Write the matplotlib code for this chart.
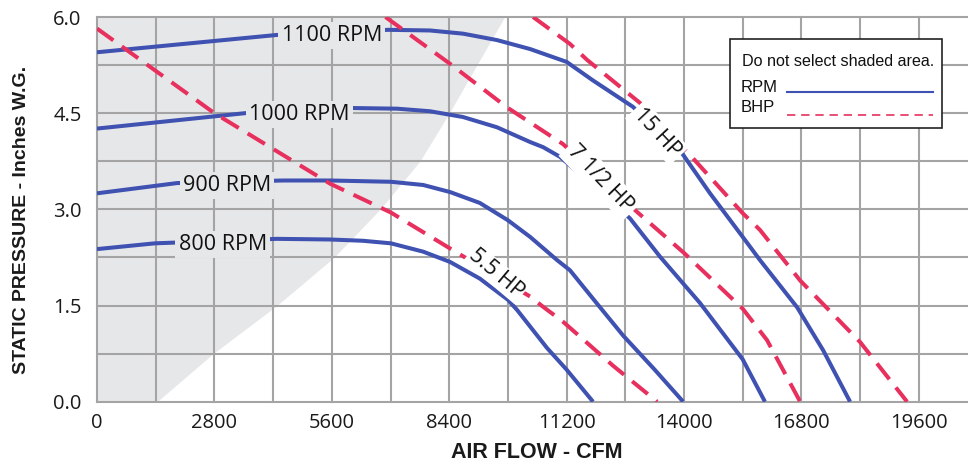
import matplotlib
matplotlib.use("Agg")
import matplotlib.pyplot as plt
from matplotlib.patches import Rectangle
from matplotlib.lines import Line2D

# fan curve data (air flow in CFM, static pressure in inches W.G.)
rpm800_cfm = [0, 1380, 4290, 5560, 6340, 7010, 7780, 8420, 9130, 9800, 10020, 10730, 11200, 11830]
rpm800_sp = [2.38, 2.47, 2.54, 2.53, 2.51, 2.47, 2.34, 2.18, 1.92, 1.59, 1.43, 0.84, 0.50, 0.0]

rpm900_cfm = [0, 1910, 4440, 5560, 7010, 7780, 8420, 9130, 9800, 10330, 10970, 11280, 11900, 12550, 13300, 13980]
rpm900_sp = [3.25, 3.41, 3.45, 3.45, 3.43, 3.38, 3.27, 3.10, 2.83, 2.57, 2.21, 2.05, 1.55, 1.03, 0.50, 0.0]

rpm1000_cfm = [0, 3530, 6110, 7160, 7940, 8730, 9540, 10330, 10640, 11040, 11450, 12710, 13430, 14380, 15400, 15930]
rpm1000_sp = [4.26, 4.50, 4.58, 4.57, 4.53, 4.44, 4.28, 4.05, 3.97, 3.82, 3.59, 2.86, 2.26, 1.54, 0.66, 0.0]

rpm1100_cfm = [0, 4290, 6940, 7940, 8730, 9540, 10330, 11200, 11830, 12780, 13980, 14620, 15400,
               15810, 16700, 17320, 17960]
rpm1100_sp = [5.45, 5.72, 5.80, 5.79, 5.74, 5.64, 5.50, 5.30, 5.01, 4.60, 3.85, 3.25, 2.57,
              2.21, 1.47, 0.80, 0.0]

hp55_cfm = [0, 2800, 5560, 7010, 8420, 10330, 10640, 11110, 12310, 13360]
hp55_sp = [5.82, 4.50, 3.40, 2.95, 2.39, 1.64, 1.48, 1.25, 0.56, 0.0]

hp75_cfm = [6880, 8420, 9780, 11110, 12880, 14000, 15400, 15980, 16770]
hp75_sp = [6.0, 5.27, 4.59, 4.02, 2.96, 2.32, 1.45, 0.96, 0.0]

hp15_cfm = [10400, 11280, 11690, 12950, 14140, 15400, 15810, 16770, 18200, 19320]
hp15_sp = [6.0, 5.58, 5.33, 4.66, 3.85, 2.94, 2.68, 1.89, 0.93, 0.0]

# edge of the "do not select" shaded area
shade_sp = [0, 0.75, 1.5, 2.25, 3.0, 3.75, 4.5, 5.25, 6.0]
shade_cfm = [1430, 2770, 4290, 5650, 6750, 7700, 8400, 9060, 9720]

x_ticks = [0, 2800, 5600, 8400, 11200, 14000, 16800, 19600]
y_ticks = [0.0, 1.5, 3.0, 4.5, 6.0]

BLUE = "#3f51b1"
RED = "#e8305e"
SHADE = "#e6e7e9"
GRID = "#a4a4a4"
FONT = "Open Sans"

W, H = 968, 466
fig = plt.figure(figsize=(W / 100, H / 100), dpi=100)
ax = fig.add_axes([97 / W, (H - 401.7) / H, (W - 97) / W, 384.7 / H])
ax.set_xlim(0, 20773)
ax.set_ylim(0, 6)

ax.fill_betweenx(shade_sp, 0, shade_cfm, color=SHADE, lw=0, zorder=0.2)

for cfm, sp in [(rpm800_cfm, rpm800_sp), (rpm900_cfm, rpm900_sp),
                (rpm1000_cfm, rpm1000_sp), (rpm1100_cfm, rpm1100_sp)]:
    ax.plot(cfm, sp, color=BLUE, lw=2.9, zorder=2, solid_capstyle="butt", solid_joinstyle="round")

for cfm, sp in [(hp55_cfm, hp55_sp), (hp75_cfm, hp75_sp), (hp15_cfm, hp15_sp)]:
    ax.plot(cfm, sp, color=RED, lw=2.9, dashes=(5, 2.6), zorder=2.1)

# curve labels
rpm_labels = [("1100 RPM", 5600, 5.75), ("1000 RPM", 4820, 4.52),
              ("900 RPM", 3100, 3.41), ("800 RPM", 3000, 2.49)]
for txt, x, y in rpm_labels:
    ax.text(x, y, txt, ha="center", va="center_baseline", fontsize=15.5, family=FONT,
            color="#111111", zorder=3,
            bbox=dict(boxstyle="square,pad=0.15", fc=SHADE, ec="none"))

hp_labels = [("15 HP", 13400, 4.22, -47, 0.14), ("7 1/2 HP", 12044, 3.50, -46, 0.16),
             ("5.5 HP", 9560, 2.03, -40, 0.06)]
for txt, x, y, rot, pad in hp_labels:
    ax.text(x, y, txt, ha="center", va="center_baseline", fontsize=15.5, family=FONT,
            color="#111111", rotation=rot, rotation_mode="anchor", zorder=3,
            bbox=dict(boxstyle=f"square,pad={pad}", fc="white", ec="none"))

# grid and ticks
ax.set_xticks(x_ticks)
ax.set_xticks(range(0, 20773, 1400), minor=True)
ax.set_yticks(y_ticks)
ax.set_yticks([i * 0.75 for i in range(9)], minor=True)
ax.set_xticklabels([str(v) for v in x_ticks])
ax.set_yticklabels([f"{v:.1f}" for v in y_ticks])
ax.set_axisbelow(True)
ax.grid(True, which="both", color=GRID, lw=1.5)
for gl in ax.get_xgridlines() + ax.get_ygridlines():
    gl.set_clip_on(False)
for s in ax.spines.values():
    s.set_visible(False)
ax.tick_params(which="both", length=0, labelsize=14.5, colors="#1a1a1a")
ax.tick_params(axis="x", pad=8)
ax.tick_params(axis="y", pad=11)
for lab in ax.get_xticklabels() + ax.get_yticklabels():
    lab.set_family(FONT)

fig.text(537 / W, 1 - 453 / H, "AIR FLOW - CFM", ha="center", va="center",
         fontsize=15.5, fontweight="bold", family="Liberation Sans", color="#1a1a1a")
fig.text(22 / W, 1 - 220 / H, "STATIC PRESSURE - Inches W.G.", ha="center", va="center",
         rotation=90, fontsize=14, fontweight="bold", family="Liberation Sans", color="#1a1a1a")

# legend box
def fx(px):
    return px / W

def fy(py):
    return 1 - py / H

fig.add_artist(Rectangle((fx(730), fy(128)), fx(942) - fx(730), fy(39) - fy(128),
                         transform=fig.transFigure, fc="white", ec="#222222", lw=1.2, zorder=5))
fig.text(fx(742), fy(61), "Do not select shaded area.", ha="left", va="center",
         fontsize=11.6, family="Liberation Sans", color="#111111", zorder=6)
fig.text(fx(741), fy(88), "RPM", ha="left", va="center",
         fontsize=12, family="Liberation Sans", color="#111111", zorder=6)
fig.text(fx(741), fy(108), "BHP", ha="left", va="center",
         fontsize=12, family="Liberation Sans", color="#111111", zorder=6)
fig.add_artist(Line2D([fx(787), fx(933)], [fy(92), fy(92)], transform=fig.transFigure,
                      color=BLUE, lw=1.5, zorder=6))
fig.add_artist(Line2D([fx(787), fx(933)], [fy(115), fy(115)], transform=fig.transFigure,
                      color=RED, lw=1.2, dashes=(5, 3.5), zorder=6))

fig.savefig("out.png", dpi=100)
